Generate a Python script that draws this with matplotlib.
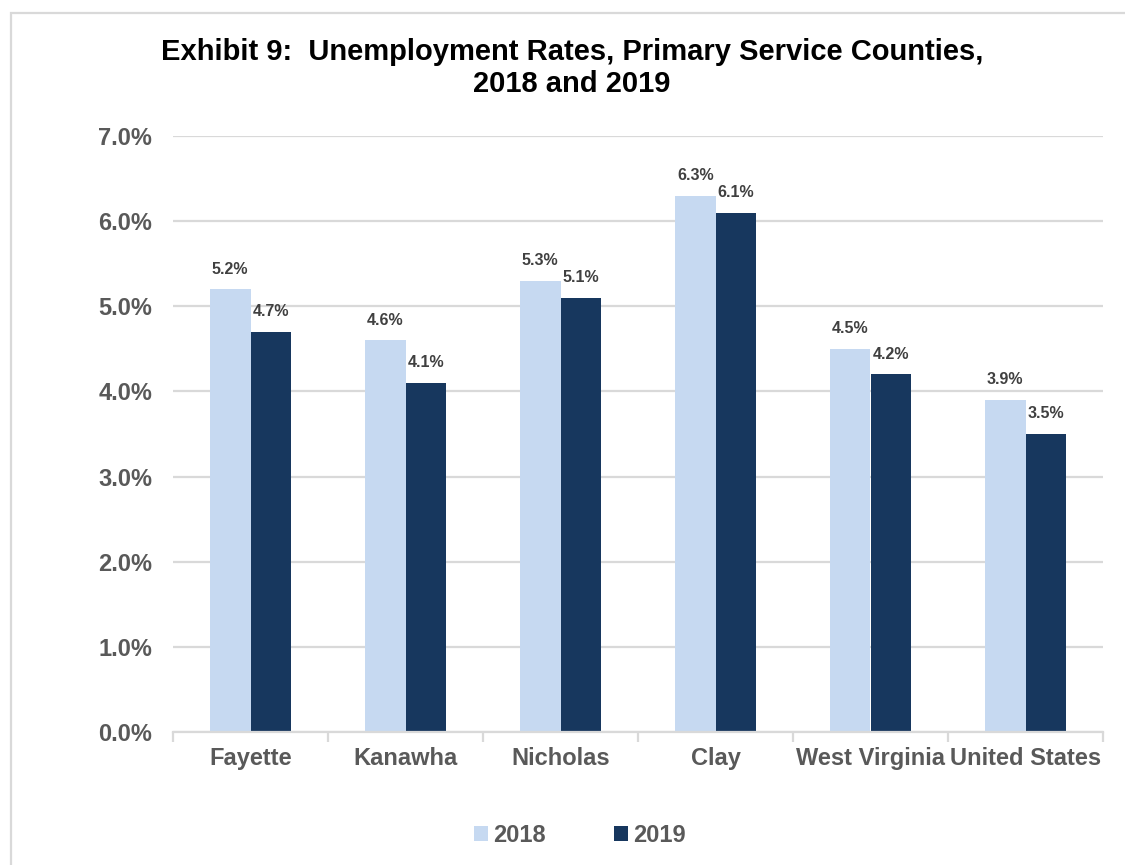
import matplotlib
matplotlib.use("Agg")
import matplotlib.pyplot as plt
from matplotlib.patches import Rectangle, Patch
import numpy as np

plt.rcParams['font.family'] = ['Liberation Sans', 'DejaVu Sans']

categories = ["Fayette", "Kanawha", "Nicholas", "Clay", "West Virginia", "United States"]
rates_2018 = [5.2, 4.6, 5.3, 6.3, 4.5, 3.9]
rates_2019 = [4.7, 4.1, 5.1, 6.1, 4.2, 3.5]
series_labels = ["2018", "2019"]
y_ticks = [0.0, 1.0, 2.0, 3.0, 4.0, 5.0, 6.0, 7.0]

light = "#C6D9F1"
dark = "#17375E"
grid_c = "#D9D9D9"
tick_c = "#595959"
label_c = "#404040"

W, H = 1125, 865
fig = plt.figure(figsize=(W / 100, H / 100), dpi=100)
fig.patch.set_facecolor("white")

# outer frame of the chart area
fig.patches.append(Rectangle((11 / W, -0.05), 1.2, 1 - 13 / H + 0.05,
                             transform=fig.transFigure, fill=False,
                             edgecolor=grid_c, linewidth=1.6, zorder=0))

ax = fig.add_axes([173 / W, 1 - 732 / H, (1103 - 173) / W, (732 - 136) / H])

x = np.arange(len(categories))
bw = 0.262
b1 = ax.bar(x - bw / 2, rates_2018, bw, color=light, zorder=3)
b2 = ax.bar(x + bw / 2, rates_2019, bw, color=dark, zorder=3)

for bars, vals in ((b1, rates_2018), (b2, rates_2019)):
    for rect, v in zip(bars, vals):
        ax.annotate(f"{v:.1f}%", (rect.get_x() + rect.get_width() / 2, v),
                    xytext=(0, 9), textcoords="offset points",
                    ha="center", va="bottom", fontsize=11.5,
                    fontweight="bold", color=label_c)

ax.set_xlim(-0.5, len(categories) - 0.5)
ax.set_ylim(0, 7.0)
ax.set_yticks(y_ticks)
ax.set_yticklabels([f"{t:.1f}%" for t in y_ticks])
ax.yaxis.grid(True, color=grid_c, linewidth=1.6, zorder=0)
ax.set_axisbelow(True)

ax.set_xticks(x)
ax.set_xticklabels(categories)
ax.set_xticks(np.arange(-0.5, len(categories)), minor=True)
ax.tick_params(axis="x", which="major", length=0, pad=11)
ax.tick_params(axis="x", which="minor", length=7, width=1.6, color=grid_c)
ax.tick_params(axis="y", length=0, pad=15)

for lbl in ax.get_xticklabels() + ax.get_yticklabels():
    lbl.set_fontsize(17)
    lbl.set_fontweight("bold")
    lbl.set_color(tick_c)

for s in ("top", "right", "left"):
    ax.spines[s].set_visible(False)
ax.spines["bottom"].set_color(grid_c)
ax.spines["bottom"].set_linewidth(1.6)
ax.spines["bottom"].set_zorder(4)

fig.text(572 / W, 1 - 68 / H,
         "Exhibit 9:  Unemployment Rates, Primary Service Counties,\n2018 and 2019",
         ha="center", va="center", fontsize=21, fontweight="bold",
         color="black", linespacing=1.15)

handles = [Patch(facecolor=light), Patch(facecolor=dark)]
leg = fig.legend(handles, series_labels, loc="center", bbox_to_anchor=(580 / W, 1 - 835 / H),
                 ncol=2, frameon=False, handlelength=0.6, handleheight=0.6,
                 handletextpad=0.2, columnspacing=2.9,
                 prop={"size": 17, "weight": "bold"})
for t in leg.get_texts():
    t.set_color(tick_c)

fig.savefig("out.png", dpi=100, facecolor="white")
